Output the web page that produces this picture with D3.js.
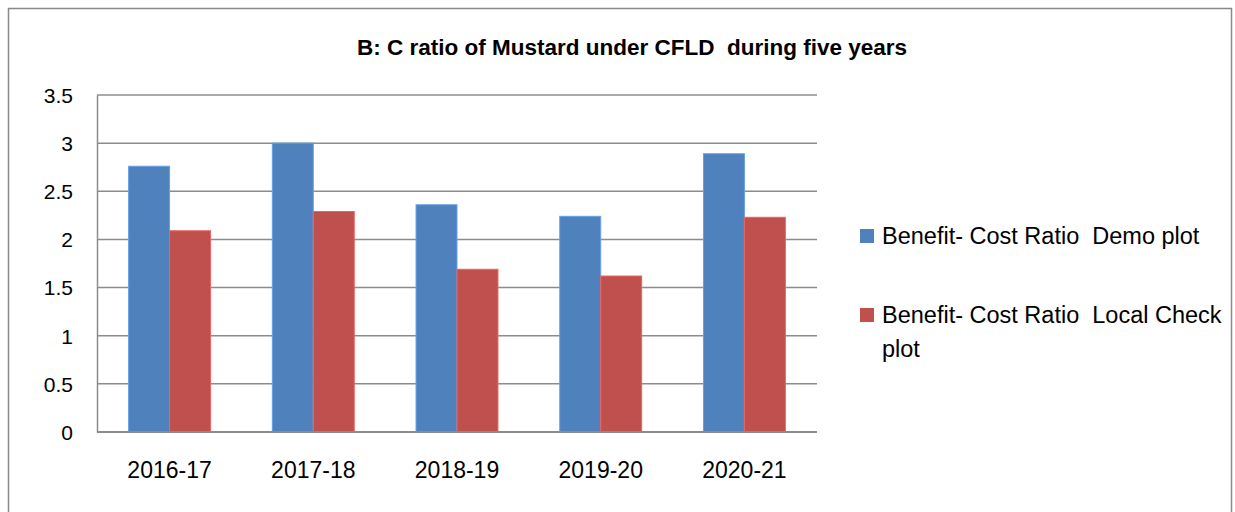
<!DOCTYPE html>
<html><head><meta charset="utf-8">
<script src="https://cdn.jsdelivr.net/npm/d3@7"></script>
<style>body{margin:0;background:#fff;} svg{display:block;font-family:"Liberation Sans",Arial,sans-serif;} text{white-space:pre;}</style>
</head><body>
<svg id="c" width="1235" height="512"></svg>
<script>
const categories = ["2016-17","2017-18","2018-19","2019-20","2020-21"];
const demoValues = [2.76, 3.00, 2.36, 2.24, 2.89];
const checkValues = [2.09, 2.29, 1.69, 1.62, 2.23];
const seriesNames = ["Benefit- Cost Ratio  Demo plot","Benefit- Cost Ratio  Local Check plot"];
const seriesColors = ["#4f81bd","#c0504d"];
const yTicks = [0,0.5,1,1.5,2,2.5,3,3.5];
const title = "B: C ratio of Mustard under CFLD  during five years";

const svg = d3.select("#c");
svg.append("rect").attr("x",8.5).attr("y",8.5).attr("width",1223).attr("height",520)
  .attr("fill","none").attr("stroke","#898989").attr("stroke-width",1.5);

const L=97,R=817,T=95,B=432;
const x = d3.scaleBand().domain(categories).range([L,R]).paddingInner(0.43).paddingOuter(0.22);
const y = d3.scaleLinear().domain([0,3.5]).range([B,T]);

svg.append("g").selectAll("line").data(yTicks).join("line")
  .attr("x1",L).attr("x2",R).attr("y1",d=>y(d)).attr("y2",d=>y(d))
  .attr("stroke","#8c8c8c").attr("stroke-width",1.5);

const yAxis = d3.axisLeft(y).tickValues(yTicks).tickSize(0).tickPadding(24).tickFormat(d=>String(d));
const ya = svg.append("g").attr("transform",`translate(${L},0)`).call(yAxis);
ya.select(".domain").attr("stroke","#8c8c8c").attr("stroke-width",1.5);
ya.selectAll("text").attr("font-size",21).attr("fill","#000").attr("dy","0.35em");

const x1 = d3.scaleBand().domain([0,1]).range([0,x.bandwidth()]);
const series = [demoValues, checkValues];
series.forEach((vals,si)=>{
  svg.append("g").selectAll("rect").data(vals).join("rect")
    .attr("x",(d,i)=>x(categories[i])+x1(si))
    .attr("y",d=>y(d)).attr("width",x1.bandwidth()).attr("height",d=>B-y(d))
    .attr("fill",seriesColors[si])
    .attr("stroke",d3.color(seriesColors[si]).brighter(0.6)).attr("stroke-width",1);
});
svg.append("line").attr("x1",L).attr("x2",R).attr("y1",B).attr("y2",B).attr("stroke","#8c8c8c").attr("stroke-width",2);

const xAxis = d3.axisBottom(x).tickSize(0).tickPadding(30);
const xa = svg.append("g").attr("transform",`translate(0,${B})`).call(xAxis);
xa.select(".domain").remove();
xa.selectAll("text").attr("font-size",23).attr("fill","#000");

svg.append("text").attr("x",632).attr("y",55).attr("text-anchor","middle")
  .attr("font-weight","bold").attr("font-size",22.5).text(title);

const lg = svg.append("g");
lg.append("rect").attr("x",860).attr("y",229).attr("width",14).attr("height",14).attr("fill",seriesColors[0]);
lg.append("text").attr("x",882).attr("y",244).attr("font-size",23.5).text(seriesNames[0]);
lg.append("rect").attr("x",860).attr("y",308).attr("width",14).attr("height",14).attr("fill",seriesColors[1]);
const t2 = lg.append("text").attr("x",882).attr("y",323).attr("font-size",23.5);
t2.append("tspan").attr("x",882).text("Benefit- Cost Ratio  Local Check");
t2.append("tspan").attr("x",882).attr("dy",34).text("plot");
</script>
</body></html>
